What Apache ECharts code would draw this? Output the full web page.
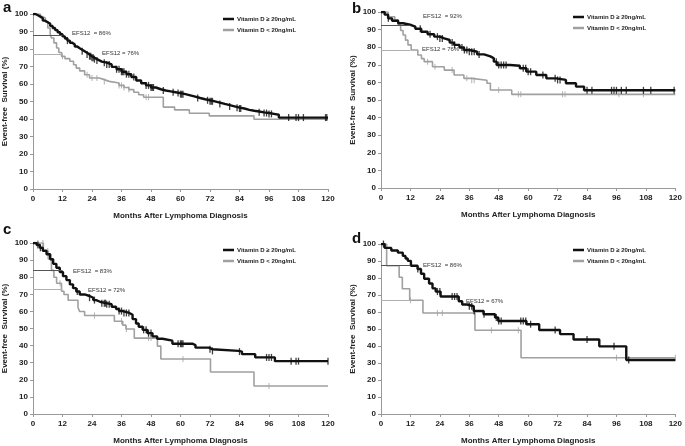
<!DOCTYPE html>
<html>
<head>
<meta charset="utf-8">
<script src="https://cdn.jsdelivr.net/npm/echarts@6/dist/echarts.min.js"></script>
<style>html,body{margin:0;padding:0;background:#fff}#c{width:685px;height:446px}</style>
</head>
<body>
<div id="c"></div>
<script>
// ---- data (months after diagnosis, event-free survival %) ----
const xTicks = [0, 12, 24, 36, 48, 60, 72, 84, 96, 108, 120];
const yTicks = [0, 10, 20, 30, 40, 50, 60, 70, 80, 90, 100];
const nameHigh = 'Vitamin D ≥ 20ng/mL';
const nameLow = 'Vitamin D < 20ng/mL';

// Panel a
const aHigh = [[0,100],[1,99.3],[2,98.5],[3,97.6],[4,96.2],[5,95.3],[6,94.4],[7,93.2],[8,92],[9,90.8],[10,89.6],[11,88.4],[12,87.2],[13,86],[14,84.8],[15,83.6],[16,82.6],[17,81.4],[18,80.4],[19,79.6],[20,78.7],[21,77.8],[22,76.9],[23,75.9],[24,75],[25,74.2],[26,73.5],[27,72.8],[28,72.2],[30,71.2],[32,69.8],[34,68.4],[36,67],[38,65.6],[40,64],[42,62],[44,60.4],[46,59.2],[48,58],[50,57],[52,56.3],[54,55.8],[56,55.3],[58,54.8],[60,54.2],[62,53.5],[64,52.8],[66,52],[68,51.3],[70,50.7],[72,50.1],[74,49.4],[76,48.6],[78,47.9],[80,47.2],[82,46.5],[84,46],[86,45.2],[88,44.7],[90,44.3],[92,43.8],[94,43.4],[96,42.9],[98,42.4],[100,40.8],[120,40.8]];
const aLow = [[0,100],[3,98.5],[4,97.7],[5,95.5],[6,92],[7,88.5],[7.5,86.3],[8.5,83.5],[9.6,80.6],[10.5,78],[11.6,75.8],[13,74.5],[15,73],[16.5,71],[17.6,69.1],[19,67.5],[21,65.3],[23,63.4],[27,62.5],[29,61.5],[31,60.6],[35,59.2],[37,58],[39,56.8],[41,55.3],[43,53.9],[45,52.4],[53,46.8],[57.6,45.2],[63.6,43.3],[71.7,41.8],[89.9,39.9],[120,39.9]];
const aHighCens = [14,20,22,23,23.5,24,24.5,25,26,29,30,31,34,35,36,36.5,37,38,39,41,46,47,48,48.5,49,53,57,59,60,60.5,61,67,71,72,72.5,73,76,80,83,84,84.5,92,94,95,96,97,104,107,108,110,119,119.5];
const aLowCens = [12,22,24,26,29,35,36,37,39,46,47];
const aEfs = [87.6, 77];
const aEfsText = ['EFS12  = 86%', 'EFS12 = 76%'];

// Panel b
const bHigh = [[0,100],[1.5,98.5],[2.9,96.4],[4.5,95],[7,93.6],[9,92.6],[12.3,91.7],[14,90.5],[16.4,88.8],[19,87.4],[21.7,86],[24,85],[25.8,84.1],[28,82.6],[29.8,81.3],[32,79.8],[33.8,78.4],[36,77.4],[39.2,75.9],[42,74.8],[44.6,73.7],[46,71.8],[47.2,69.9],[52.6,69.5],[56.6,68],[59.3,66.1],[63.3,64.2],[67.4,62.3],[71.4,61.4],[75.4,59.5],[79.5,57.6],[82.8,55.5],[120,55.5]];
const bLow = [[0,100],[2.9,97.3],[5.6,95.5],[7,92.6],[8,89.5],[9,86.9],[10,84],[11,81.3],[12.3,78.4],[15,75.6],[16.5,73.5],[17.6,71.8],[21,68.9],[25.8,67],[29.8,64.2],[33.8,62.3],[37,61.2],[43.2,59.5],[44.6,55.7],[53.3,53.2],[120,53.2]];
const bHighCens = [3,16,20,23,24,25,29,30,33,34,35,36,37,38,40,47,48,49,50,51,58,59,60,61,66,71,72,73,84,86,94,95,96,98,100,107,110,119.5];
const bLowCens = [19,22,29,35,37,38,48,56,57,74,75,97,107];
const bEfs = [92.2, 78.2];
const bEfsText = ['EFS12  = 92%', 'EFS12 = 76%'];

// Panel c
const cHigh = [[0,100],[1.5,98.8],[2.8,97.2],[4,95.5],[5.5,93.4],[7,90.5],[8.2,87.8],[9.5,85.5],[10.9,83],[12.2,80.6],[13.6,78.3],[15,75.8],[16.3,73.6],[17.6,71.6],[19,69.9],[21,69],[23,68],[24.5,66.6],[25.7,65.5],[27.5,64.8],[29.8,64.2],[32,62.7],[33.8,61.4],[35,60.2],[36.5,59.1],[39.2,58],[40.5,55.5],[41.9,52.9],[43,51],[44.6,49.2],[46.5,47.3],[48.6,45.4],[50.5,44],[52.7,42.9],[56.7,41.1],[64.8,40.3],[66.1,38.8],[71.5,37.9],[72.9,36.9],[83.6,36.5],[85,35],[90.4,33.1],[98.4,30.9],[120,30.9]];
const cLow = [[0,100],[4.2,95.3],[6.2,90.6],[7.5,84],[8.5,80],[9.6,76.5],[11.6,71.8],[12.6,69.9],[14.3,66.5],[18.3,62.3],[19,59.9],[21,57.6],[33.1,54.2],[36.5,52],[37.8,49.7],[41.2,44.4],[50.6,39.7],[52,32.2],[72.2,24.6],[89.9,16.4],[120,16.4]];
const cHighCens = [2,3,18,23,25,28,29,29.5,30,31,35,36,37,38,39,45,46,47,48,59,60,60.5,61,72,73,84,95,96,97,105,107,108,120];
const cLowCens = [2,4,6,11,25,36,38,47,48,61,96];
const cEfs = [84, 73.1];
const cEfsText = ['EFS12  = 83%', 'EFS12 = 72%'];

// Panel d
const dHigh = [[0,100],[1.5,97.7],[4.2,96.2],[6.9,94.9],[8.9,93],[10,91.5],[10.9,90.1],[12.2,87.2],[14.9,85.3],[16.3,82.5],[17.6,79.6],[19.6,76.8],[21,73.9],[22.3,72],[24.3,69.1],[31.7,66.3],[33.1,64.4],[35.1,63.4],[37.8,60.6],[41.8,58.7],[46.5,56.8],[47.8,54.7],[59.3,52.8],[64.5,49.4],[73,47],[78.5,43.8],[89,39.8],[100,31.8],[120,31.8]];
const dLow = [[0,100],[2.3,87.2],[7.4,80.4],[8.7,73.7],[11.7,66.9],[17.1,59.4],[38.3,49.3],[57.1,33.1],[120,33.1]];
const dHighCens = [1,15,23,24,29,30,31,36,37,38,42,47,48,49,57,58,59,61,71,84,95,101];
const dLowCens = [12,23,25,45,56,96,120];
const dEfs = [87.4, 66.9];
const dEfsText = ['EFS12  = 86%', 'EFS12 = 67%'];

const panelLetters = ['a', 'b', 'c', 'd'];
const xTitle = 'Months After Lymphoma Diagnosis';
const yTitle = 'Event-free  Survival (%)';

// ---- layout ----
const grids = [
  {left: 31, top: 14, width: 297, height: 175},
  {left: 381, top: 12, width: 298, height: 176},
  {left: 31, top: 243, width: 297, height: 177},
  {left: 381, top: 244, width: 298, height: 175}
];
const panels = [
  {hi: aHigh, lo: aLow, hc: aHighCens, lc: aLowCens, efs: aEfs, txt: aEfsText, txtPos: [[72, 30], [102, 50]]},
  {hi: bHigh, lo: bLow, hc: bHighCens, lc: bLowCens, efs: bEfs, txt: bEfsText, txtPos: [[423, 13], [422, 46]]},
  {hi: cHigh, lo: cLow, hc: cHighCens, lc: cLowCens, efs: cEfs, txt: cEfsText, txtPos: [[73, 268], [88, 287]]},
  {hi: dHigh, lo: dLow, hc: dHighCens, lc: dLowCens, efs: dEfs, txt: dEfsText, txtPos: [[423, 262], [466, 298]]}
];
const legendPos = [[218, 11], [568, 9], [218, 242], [568, 242]];
const letterPos = [[3, 0], [352, 1], [3, 222], [352, 231]];

function stepAt(curve, m) {
  let v = curve[0][1];
  for (const p of curve) { if (p[0] <= m) v = p[1]; else break; }
  return v;
}

const FONT = '"Liberation Sans", Arial, sans-serif';
const xAxes = [], yAxes = [], series = [], legends = [], graphics = [];

panels.forEach((p, i) => {
  xAxes.push({
    gridIndex: i, type: 'value', min: 0, max: 120, interval: 12,
    name: xTitle, nameLocation: 'middle', nameGap: 23,
    nameTextStyle: {fontFamily: FONT, fontWeight: 'bold', fontSize: 8, color: '#222'},
    axisLine: {lineStyle: {color: '#999', width: 1}},
    axisTick: {show: true, length: 3, lineStyle: {color: '#999'}},
    axisLabel: {fontFamily: FONT, fontWeight: 'bold', fontSize: 8, color: '#222', margin: 6},
    splitLine: {show: false}
  });
  yAxes.push({
    gridIndex: i, type: 'value', min: 0, max: 100, interval: 10,
    name: yTitle, nameLocation: 'middle', nameGap: 24,
    nameTextStyle: {fontFamily: FONT, fontWeight: 'bold', fontSize: 8, color: '#222'},
    axisLine: {show: true, lineStyle: {color: '#999', width: 1}},
    axisTick: {show: true, length: 3, lineStyle: {color: '#999'}},
    axisLabel: {fontFamily: FONT, fontWeight: 'bold', fontSize: 8, color: '#222', margin: 5},
    splitLine: {show: false}
  });
  series.push({
    name: nameLow, type: 'line', step: 'end', xAxisIndex: i, yAxisIndex: i,
    data: p.lo, showSymbol: false, symbol: 'none',
    lineStyle: {color: '#a0a0a0', width: 1.6}, itemStyle: {color: '#a0a0a0'},
    z: 2, silent: true, animation: false,
    markLine: {
      silent: true, symbol: 'none', label: {show: false}, animation: false,
      data: [
        [{coord: [0, p.efs[0]], lineStyle: {color: '#555', width: 1, type: 'solid'}}, {coord: [12, p.efs[0]]}],
        [{coord: [0, p.efs[1]], lineStyle: {color: '#b0b0b0', width: 1, type: 'solid'}}, {coord: [12, p.efs[1]]}]
      ]
    }
  });
  series.push({
    name: nameHigh, type: 'line', step: 'end', xAxisIndex: i, yAxisIndex: i,
    data: p.hi, showSymbol: false, symbol: 'none',
    lineStyle: {color: '#111', width: 2.4}, itemStyle: {color: '#111'},
    z: 3, silent: true, animation: false
  });
  series.push({
    name: 'censLow' + i, type: 'scatter', xAxisIndex: i, yAxisIndex: i,
    data: p.lc.map(m => [m, stepAt(p.lo, m)]),
    symbol: 'rect', symbolSize: [1, 6], itemStyle: {color: '#a0a0a0'}, z: 2, silent: true, animation: false
  });
  series.push({
    name: 'censHigh' + i, type: 'scatter', xAxisIndex: i, yAxisIndex: i,
    data: p.hc.map(m => [m, stepAt(p.hi, m)]),
    symbol: 'rect', symbolSize: [1.3, 7], itemStyle: {color: '#111'}, z: 3, silent: true, animation: false
  });
  legends.push({
    left: legendPos[i][0], top: legendPos[i][1], orient: 'vertical', itemGap: 5,
    itemWidth: 11, itemHeight: 2.5, icon: 'rect',
    data: [{name: nameHigh}, {name: nameLow}],
    textStyle: {fontFamily: FONT, fontWeight: 'bold', fontSize: 6, color: '#222', padding: [0, 0, 0, -2]},
    selectedMode: false
  });
  graphics.push({
    type: 'text', left: letterPos[i][0], top: letterPos[i][1],
    style: {text: panelLetters[i], font: 'bold 15px ' + FONT, fill: '#111'}
  });
  p.txt.forEach((t, k) => {
    graphics.push({
      type: 'text', left: p.txtPos[k][0], top: p.txtPos[k][1],
      style: {text: t, font: '6px ' + FONT, fill: '#333'}
    });
  });
});

const chart = echarts.init(document.getElementById('c'), null, {renderer: 'canvas'});
chart.setOption({
  backgroundColor: '#fff',
  animation: false,
  grid: grids,
  xAxis: xAxes,
  yAxis: yAxes,
  legend: legends,
  series: series,
  graphic: graphics
});
</script>
</body>
</html>
